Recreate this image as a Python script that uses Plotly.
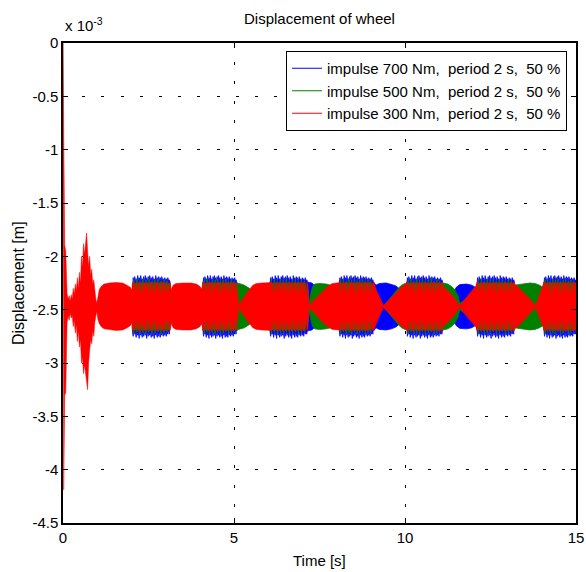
import plotly.graph_objects as go

# ---------------------------------------------------------------------------
# Wheel displacement (values in units of 1e-3 m) for three periodic torque
# impulses (period 2 s, 50 % duty).  The response oscillates much faster than
# the pixel grid, so each series is described by its oscillation envelope.
# ---------------------------------------------------------------------------
MEAN = -2.47  # static wheel displacement [1e-3 m]

SERIES_NAMES = [
    "impulse 700 Nm,  period 2 s,  50 %",
    "impulse 500 Nm,  period 2 s,  50 %",
    "impulse 300 Nm,  period 2 s,  50 %",
]
SERIES_COLORS = ["#0000ff", "#008000", "#ff0000"]

X_TICKS = [0, 5, 10, 15]
X_TICK_LABELS = ["0", "5", "10", "15"]
Y_TICKS = [0, -0.5, -1, -1.5, -2, -2.5, -3, -3.5, -4, -4.5]
Y_TICK_LABELS = ["0", "-0.5", "-1", "-1.5", "-2", "-2.5", "-3", "-3.5", "-4", "-4.5"]

# Intervals while the torque impulse acts (jagged forced response) [s]
SPIKE_START = [2.03, 4.09, 6.05, 8.08, 10.05, 12.10, 14.06]
SPIKE_END = [3.13, 5.08, 7.15, 9.08, 11.10, 13.20, 15.00]

# Start-up transient of the 300 Nm case: upper / lower envelope [1e-3 m]
RED_T0 = [0.0, 0.02, 0.04, 0.05, 0.08, 0.10, 0.12, 0.15, 0.18, 0.21, 0.24, 0.27,
          0.30, 0.33, 0.36, 0.39, 0.42, 0.45, 0.48, 0.51, 0.54, 0.57, 0.60, 0.63,
          0.66, 0.69, 0.72, 0.75, 0.78, 0.81, 0.84, 0.87, 0.90, 0.93, 0.96, 0.99]
RED_UP0 = [0.0, -1.28, -1.28, -1.90, -1.95, -2.20, -2.35, -2.40, -2.37, -2.42,
           -2.36, -2.40, -2.30, -2.36, -2.26, -2.32, -2.20, -2.30, -2.15, -2.25,
           -2.00, -2.10, -1.88, -1.98, -1.90, -1.78, -1.95, -2.10, -2.00, -2.18,
           -2.12, -2.26, -2.22, -2.34, -2.40, -2.44]
RED_LO0 = [0.0, -4.19, -4.19, -3.30, -3.28, -2.90, -2.62, -2.56, -2.60, -2.53,
           -2.58, -2.55, -2.66, -2.60, -2.72, -2.64, -2.80, -2.70, -2.85, -2.78,
           -3.00, -2.95, -3.10, -3.02, -3.05, -3.15, -3.25, -3.00, -2.88, -2.78,
           -2.82, -2.70, -2.75, -2.62, -2.56, -2.52]

# Free-oscillation envelopes between impulses: (time [s], half amplitude)
RED_T = [1.00, 1.02, 1.06, 1.12, 1.20, 1.35, 1.55, 1.75, 1.88, 1.97, 2.02,
         3.13, 3.16, 3.22, 3.30, 3.50, 3.75, 3.90, 4.00, 4.07,
         5.08, 5.14, 5.25, 5.35, 5.45, 5.55, 5.65, 5.80, 6.04,
         7.15, 7.20, 7.30, 7.45, 7.60, 7.75, 7.87, 8.07,
         9.08, 9.15, 9.25, 9.37, 9.50, 9.65, 9.80, 9.92, 10.04,
         11.11, 11.25, 11.40, 11.60, 11.75, 11.90, 12.00, 12.09,
         13.21, 13.35, 13.50, 13.65, 13.81, 13.90, 13.98, 14.05]
RED_AMP = [0.05, 0.12, 0.16, 0.19, 0.21, 0.22, 0.225, 0.22, 0.20, 0.18, 0.15,
           0.12, 0.16, 0.20, 0.215, 0.22, 0.22, 0.21, 0.19, 0.16,
           0.07, 0.01, 0.07, 0.12, 0.16, 0.20, 0.215, 0.22, 0.22,
           0.06, 0.01, 0.05, 0.10, 0.15, 0.19, 0.215, 0.22,
           0.20, 0.16, 0.09, 0.01, 0.05, 0.10, 0.15, 0.19, 0.215,
           0.19, 0.15, 0.10, 0.01, 0.07, 0.13, 0.17, 0.20,
           0.21, 0.17, 0.12, 0.07, 0.01, 0.08, 0.15, 0.20]

GREEN_T = [0.03, 1.00, 1.10, 1.90, 2.02,
           3.15, 3.30, 3.90, 4.05,
           5.08, 5.15, 5.30, 5.45, 5.55, 5.70, 5.85, 6.00,
           7.15, 7.20, 7.25, 7.30, 7.36, 7.50, 7.70, 7.82, 7.90, 8.00,
           9.08, 9.20, 9.37, 9.50, 9.65, 9.80, 9.90, 10.00,
           11.11, 11.25, 11.35, 11.45, 11.55, 11.60, 11.70, 11.90, 12.05,
           13.21, 13.30, 13.45, 13.65, 13.80, 13.93, 14.03]
GREEN_AMP = [0.02, 0.02, 0.12, 0.15, 0.12,
             0.08, 0.15, 0.15, 0.12,
             0.22, 0.215, 0.20, 0.17, 0.14, 0.10, 0.12, 0.15,
             0.08, 0.03, 0.13, 0.19, 0.21, 0.215, 0.21, 0.20, 0.17, 0.14,
             0.18, 0.11, 0.005, 0.05, 0.11, 0.17, 0.20, 0.215,
             0.22, 0.21, 0.19, 0.16, 0.10, 0.03, 0.05, 0.10, 0.15,
             0.20, 0.205, 0.215, 0.22, 0.215, 0.20, 0.18]

BLUE_T = [0.03, 1.00, 1.10, 1.90, 2.02,
          3.15, 3.30, 3.90, 4.05,
          5.08, 5.15, 5.30, 5.60, 6.00,
          7.15, 7.20, 7.28, 7.34, 7.40, 7.50, 7.80, 8.00,
          9.08, 9.15, 9.25, 9.45, 9.60, 9.72, 9.80, 9.87, 9.95, 10.02,
          11.11, 11.30, 11.40, 11.50, 11.60, 11.80, 11.95, 12.05, 12.09,
          13.21, 13.50, 13.80, 14.03]
BLUE_AMP = [0.02, 0.02, 0.10, 0.13, 0.10,
            0.06, 0.13, 0.13, 0.10,
            0.12, 0.10, 0.08, 0.05, 0.10,
            0.23, 0.225, 0.22, 0.20, 0.12, 0.06, 0.05, 0.08,
            0.17, 0.20, 0.215, 0.22, 0.21, 0.195, 0.175, 0.15, 0.10, 0.08,
            0.10, 0.08, 0.12, 0.18, 0.205, 0.21, 0.20, 0.18, 0.15,
            0.10, 0.08, 0.05, 0.10]

# Forced response while the impulse acts: base half amplitude plus the
# individual peaks (position as fraction of the impulse interval, height up/down)
RED_BASE = 0.225
RED_PEAK_POS = [0.065, 0.135, 0.215, 0.295, 0.375, 0.455, 0.535, 0.615, 0.695, 0.775, 0.855, 0.935]
RED_PEAK_UP = [0.13, 0.16, 0.12, 0.15, 0.17, 0.13, 0.12, 0.16, 0.14, 0.12, 0.15, 0.13]
RED_PEAK_LO = [0.15, 0.13, 0.14, 0.16, 0.12, 0.15, 0.14, 0.13, 0.16, 0.13, 0.14, 0.12]

GREEN_BASE = 0.215
GREEN_PEAK_POS = [0.04, 0.12, 0.20, 0.28, 0.36, 0.44, 0.52, 0.60, 0.68, 0.76, 0.84, 0.92]
GREEN_PEAK_UP = [0.25, 0.26, 0.24, 0.26, 0.25, 0.26, 0.24, 0.25, 0.26, 0.24, 0.25, 0.24]
GREEN_PEAK_LO = [0.26, 0.24, 0.26, 0.25, 0.26, 0.24, 0.26, 0.25, 0.24, 0.26, 0.25, 0.24]

BLUE_BASE = 0.23
BLUE_PEAK_POS = [0.02, 0.06, 0.10, 0.14, 0.18, 0.22, 0.26, 0.30, 0.34, 0.38, 0.42, 0.46, 0.50,
                 0.54, 0.58, 0.62, 0.66, 0.70, 0.74, 0.78, 0.82, 0.86, 0.90, 0.94, 0.98]
BLUE_PEAK_UP = [0.27, 0.28, 0.26, 0.29, 0.27, 0.29, 0.26, 0.28, 0.29, 0.27, 0.28, 0.29, 0.27,
                0.28, 0.26, 0.29, 0.27, 0.28, 0.27, 0.28, 0.26, 0.27, 0.26, 0.27, 0.25]
BLUE_PEAK_LO = [0.28, 0.26, 0.29, 0.27, 0.30, 0.27, 0.29, 0.28, 0.27, 0.30, 0.28, 0.27, 0.29,
                0.28, 0.30, 0.27, 0.29, 0.28, 0.29, 0.27, 0.28, 0.27, 0.28, 0.26, 0.26]


def envelope_polygon(t_knots, amp_knots, base, pos, up, lo, half, flat=0.0, lead=None):
    """Closed outline (upper edge forward, lower edge back) of one series."""
    pts = [(t, MEAN + a, MEAN - a) for t, a in zip(t_knots, amp_knots)]
    for s, e in zip(SPIKE_START, SPIKE_END):
        span = e - s
        pts.append((s, MEAN + base, MEAN - base))
        for p, u, l in zip(pos, up, lo):
            pts.append((s + (p - half) * span, MEAN + base, MEAN - base))
            pts.append((s + (p - half * flat) * span, MEAN + u, MEAN - l))
            pts.append((s + (p + half * flat) * span, MEAN + u, MEAN - l))
            pts.append((s + (p + half) * span, MEAN + base, MEAN - base))
        pts.append((e, MEAN + base, MEAN - base))
    pts.sort(key=lambda q: q[0])
    if lead:
        pts = lead + pts
    xs = [q[0] for q in pts]
    ups = [q[1] for q in pts]
    los = [q[2] for q in pts]
    return xs + xs[::-1], ups + los[::-1]


red_lead = list(zip(RED_T0, RED_UP0, RED_LO0))

outlines = [
    envelope_polygon(BLUE_T, BLUE_AMP, BLUE_BASE, BLUE_PEAK_POS, BLUE_PEAK_UP, BLUE_PEAK_LO, 0.012),
    envelope_polygon(GREEN_T, GREEN_AMP, GREEN_BASE, GREEN_PEAK_POS, GREEN_PEAK_UP, GREEN_PEAK_LO, 0.014),
    envelope_polygon(RED_T, RED_AMP, RED_BASE, RED_PEAK_POS, RED_PEAK_UP, RED_PEAK_LO, 0.025,
                     flat=0.4, lead=red_lead),
]
edge_widths = [0.8, 0.8, 0.5]

FONT = "Liberation Sans, Arial, Helvetica, sans-serif"

fig = go.Figure()

for (xs, ys), color, lw in zip(outlines, SERIES_COLORS, edge_widths):
    fig.add_trace(go.Scatter(
        x=xs, y=ys, mode="lines", fill="toself", fillcolor=color,
        line=dict(color=color, width=lw), showlegend=False, hoverinfo="skip",
    ))

# legend entries drawn as plain line samples
for name, color in zip(SERIES_NAMES, SERIES_COLORS):
    fig.add_trace(go.Scatter(
        x=[None], y=[None], mode="lines", name=name,
        line=dict(color=color, width=1),
    ))

axis_common = dict(
    showline=True, linecolor="black", linewidth=1.5, mirror="ticks",
    ticks="inside", ticklen=5, tickwidth=1, tickcolor="black",
    showgrid=True, gridcolor="black", gridwidth=1, griddash="3px,16.2px",
    zeroline=False, automargin=False,
    tickfont=dict(family=FONT, size=15, color="black"),
)

fig.update_layout(
    width=586, height=572,
    margin=dict(l=63, r=10, t=43, b=49, pad=0, autoexpand=False),
    paper_bgcolor="white", plot_bgcolor="white",
    font=dict(family=FONT, size=15, color="black"),
    title=dict(text="Displacement of wheel", x=0.5, xref="paper", xanchor="center",
               y=1 - 19 / 572, yref="container", yanchor="middle",
               font=dict(family=FONT, size=15, color="black")),
    xaxis=dict(range=[0, 15], tickvals=X_TICKS, ticktext=X_TICK_LABELS, **axis_common),
    yaxis=dict(range=[-4.5, 0], tickvals=Y_TICKS, ticktext=Y_TICK_LABELS, **axis_common),
    legend=dict(x=(567 - 63) / 513, y=1 - (51 - 43) / 480, xanchor="right", yanchor="top",
                bgcolor="white", bordercolor="black", borderwidth=1,
                font=dict(family=FONT, size=15, color="black")),
    showlegend=True,
)

fig.add_annotation(text="x 10<sup>-3</sup>", xref="paper", yref="paper",
                   x=0, y=1 + (43 - 25) / 480, xanchor="left", yanchor="middle",
                   showarrow=False, font=dict(family=FONT, size=15, color="black"))
fig.add_annotation(text="Time [s]", xref="paper", yref="paper",
                   x=0.5, y=-(560 - 523) / 480, xanchor="center", yanchor="middle",
                   showarrow=False, font=dict(family=FONT, size=15, color="black"))
fig.add_annotation(text="Displacement [m]", xref="paper", yref="paper",
                   x=-(63 - 18) / 513, y=0.5, xanchor="center", yanchor="middle",
                   textangle=-90, showarrow=False,
                   font=dict(family=FONT, size=16, color="black"))

fig.write_html("out.html")
